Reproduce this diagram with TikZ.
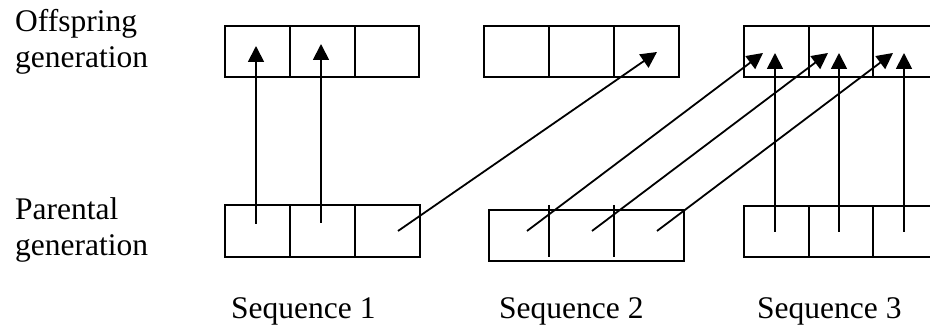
\documentclass[tikz,border=0pt]{standalone}
\usepackage{fontspec}
\setmainfont{Liberation Serif}
\usetikzlibrary{arrows.meta}
\begin{document}
\begin{tikzpicture}[x=1pt,y=-1pt,
  cell/.style={draw, line width=1.8pt, minimum width=65pt, minimum height=51pt, inner sep=0pt, outer sep=0pt, anchor=north west},
  lbl/.style={font=\fontsize{31.5}{37}\selectfont, anchor=base west, inner sep=0pt},
  boxline/.style={line width=1.8pt},
  link/.style={line width=1.8pt, -{Triangle[length=16pt,width=16pt]}}]
\clip (0,0) rectangle (930,331);
\useasboundingbox (0,0) rectangle (930,331);
% labels
\node[lbl] (off1) at (15,32) {Offspring};
\node[lbl] (off2) at (15,68) {generation};
\node[lbl] (par1) at (15,220) {Parental};
\node[lbl] (par2) at (15,256) {generation};
\node[lbl] (s1) at (231,319) {Sequence 1};
\node[lbl] (s2) at (499,319) {Sequence 2};
\node[lbl] (s3) at (757,319) {Sequence 3};
% offspring boxes
\node[cell] (oa1) at (225,26) {};
\node[cell] (oa2) at (290,26) {};
\node[cell, minimum width=64pt] (oa3) at (355,26) {};
\node[cell] (ob1) at (484,26) {};
\node[cell] (ob2) at (549,26) {};
\node[cell] (ob3) at (614,26) {};
\node[cell] (oc1) at (744,26) {};
\node[cell, minimum width=64pt] (oc2) at (809,26) {};
\node[cell] (oc3) at (873,26) {};
% parental boxes
\node[cell, minimum height=52pt] (pa1) at (225,205) {};
\node[cell, minimum height=52pt] (pa2) at (290,205) {};
\node[cell, minimum height=52pt] (pa3) at (355,205) {};
\node[draw, boxline, minimum width=195pt, minimum height=51pt, inner sep=0pt, outer sep=0pt, anchor=north west] (pb) at (489,210) {};
\draw[boxline] (549,205) -- (549,257);
\draw[boxline] (614,205) -- (614,257);
\node[cell, minimum height=51pt] (pc1) at (744,206) {};
\node[cell, minimum height=51pt, minimum width=64pt] (pc2) at (809,206) {};
\node[cell, minimum height=51pt] (pc3) at (873,206) {};
% start / end points
\coordinate (sa1) at (256,224); \coordinate (ea1) at (256,46);
\coordinate (sa2) at (321,223); \coordinate (ea2) at (321,44);
\coordinate (sa3) at (398,231); \coordinate (ea3) at (657,52);
\coordinate (sb1) at (527,231); \coordinate (eb1) at (763,53);
\coordinate (sb2) at (592,231); \coordinate (eb2) at (828,53);
\coordinate (sb3) at (657,231); \coordinate (eb3) at (893,53);
\coordinate (sc1) at (775,232); \coordinate (ec1) at (775,53);
\coordinate (sc2) at (839,232); \coordinate (ec2) at (839,53);
\coordinate (sc3) at (904,232); \coordinate (ec3) at (904,53);
% connectors
\draw[link] (sa1) -- (ea1);
\draw[link] (sa2) -- (ea2);
\draw[link] (sa3) -- (ea3);
\draw[link] (sb1) -- (eb1);
\draw[link] (sb2) -- (eb2);
\draw[link] (sb3) -- (eb3);
\draw[link] (sc1) -- (ec1);
\draw[link] (sc2) -- (ec2);
\draw[link] (sc3) -- (ec3);
\end{tikzpicture}
\end{document}
